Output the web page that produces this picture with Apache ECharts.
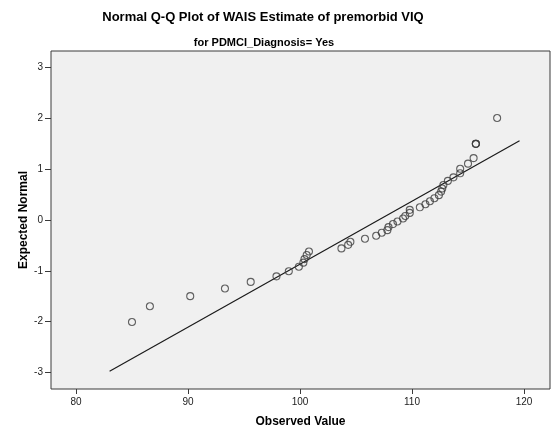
<!DOCTYPE html>
<html>
<head>
<meta charset="utf-8">
<script src="https://cdn.jsdelivr.net/npm/echarts@6/dist/echarts.min.js"></script>
<style>
  html, body { margin: 0; padding: 0; background: #ffffff; }
  #chart { width: 552px; height: 434px; }
</style>
</head>
<body>
<div id="chart"></div>
<script>
// Observed WAIS premorbid VIQ estimates (sorted) and their expected normal scores
const observedValues = [
  85.0, 86.6, 90.2, 93.3, 95.6, 97.9, 99.0, 99.9,
  100.3, 100.4, 100.6, 100.8, 103.7, 104.3, 104.5, 105.8,
  106.8, 107.3, 107.8, 107.9, 108.3, 108.7, 109.2, 109.4, 109.8, 109.8,
  110.7, 111.2, 111.6, 112.0, 112.4, 112.6, 112.7, 112.8, 113.2,
  113.7, 114.3, 114.3, 115.0, 115.5, 115.7, 115.7, 115.7, 117.6
];
const expectedNormal = [
  -2.01, -1.70, -1.50, -1.35, -1.22, -1.11, -1.01, -0.92,
  -0.84, -0.77, -0.69, -0.62, -0.56, -0.49, -0.43, -0.37,
  -0.31, -0.25, -0.20, -0.14, -0.08, -0.03, 0.03, 0.08, 0.14, 0.20,
  0.25, 0.31, 0.37, 0.43, 0.49, 0.56, 0.62, 0.69, 0.77,
  0.84, 0.92, 1.01, 1.11, 1.22, 1.50, 1.50, 1.50, 2.01
];
// Reference line endpoints (observed value, expected normal)
const refLineX = [83.0, 119.6];
const refLineY = [-2.98, 1.56];
// Tick labels
const xTicks = [80, 90, 100, 110, 120];
const yTicks = [-3, -2, -1, 0, 1, 2, 3];

const points = observedValues.map((v, i) => [v, expectedNormal[i]]);
const refLine = refLineX.map((v, i) => [v, refLineY[i]]);

const font = 'Liberation Sans, Arial, sans-serif';
const chart = echarts.init(document.getElementById('chart'), null, { renderer: 'canvas' });

chart.setOption({
  animation: false,
  backgroundColor: '#ffffff',
  title: [
    {
      text: 'Normal Q-Q Plot of WAIS Estimate of premorbid VIQ',
      left: 258, top: 6, textAlign: 'center',
      textStyle: { fontFamily: font, fontWeight: 'bold', fontSize: 13, color: '#000' }
    },
    {
      text: 'for PDMCI_Diagnosis= Yes',
      left: 259, top: 32, textAlign: 'center',
      textStyle: { fontFamily: font, fontWeight: 'bold', fontSize: 11, color: '#000' }
    }
  ],
  grid: {
    left: 51, right: 2, top: 51, bottom: 45,
    show: true, backgroundColor: '#f0f0f0', borderColor: '#3a3a3a', borderWidth: 1
  },
  xAxis: {
    type: 'value', min: 77.77, max: 122.32,
    name: 'Observed Value', nameLocation: 'middle', nameGap: 27,
    nameMoveOverlap: false,
    nameTextStyle: { fontFamily: font, fontWeight: 'bold', fontSize: 12, color: '#000' },
    splitLine: { show: false },
    axisLine: { show: false, onZero: false },
    axisTick: { show: true, length: 5, customValues: xTicks, lineStyle: { color: '#3a3a3a' } },
    axisLabel: { customValues: xTicks, margin: 8, fontFamily: font, fontSize: 10, color: '#222' }
  },
  yAxis: {
    type: 'value', min: -3.33, max: 3.33,
    name: 'Expected Normal', nameLocation: 'middle', nameGap: 21,
    nameMoveOverlap: false,
    nameTextStyle: { fontFamily: font, fontWeight: 'bold', fontSize: 12, color: '#000' },
    splitLine: { show: false },
    axisLine: { show: false, onZero: false },
    axisTick: { show: true, length: 6, customValues: yTicks, lineStyle: { color: '#3a3a3a' } },
    axisLabel: { customValues: yTicks, margin: 8, fontFamily: font, fontSize: 10, color: '#222' }
  },
  series: [
    {
      type: 'line',
      data: refLine,
      symbol: 'none',
      lineStyle: { color: '#1a1a1a', width: 1.2 },
      z: 2
    },
    {
      type: 'scatter',
      data: points,
      symbol: 'circle',
      symbolSize: 7,
      itemStyle: { color: 'rgba(0,0,0,0)', borderColor: '#3c3c3c', borderWidth: 1.1 },
      z: 3
    }
  ]
});
</script>
</body>
</html>
